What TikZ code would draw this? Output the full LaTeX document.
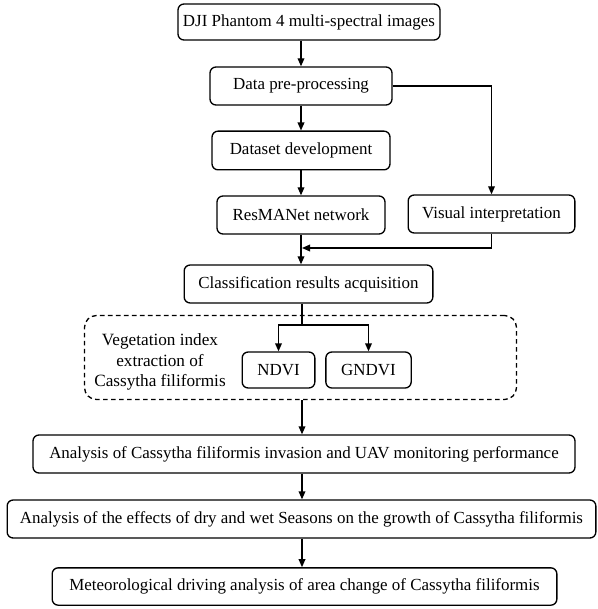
\documentclass[tikz,border=0pt]{standalone}
\usepackage{fontspec}
\setmainfont{Liberation Serif}
\usetikzlibrary{arrows.meta}

\tikzset{every picture/.style={line width=0.75pt}}

\begin{document}
\begin{tikzpicture}[x=0.75pt,y=0.75pt,yscale=-1,xscale=1,
  stepbox/.style={draw,line width=1pt,rounded corners=4.5pt,inner sep=0pt,font=\fontsize{12.7}{14}\selectfont},
  arr/.style={line width=1pt,-{Triangle[length=6pt,width=5pt]}},
  plain/.style={line width=1pt}]
%set diagram size 597 x 609
\useasboundingbox (0,0) rectangle (597,609);

%Rounded Rect [id:dji]
\node[stepbox,minimum width=196.5pt,minimum height=27pt] (dji) at (309,22) {DJI Phantom 4 multi-spectral images};
%Rounded Rect [id:pre]
\node[stepbox,minimum width=136.5pt,minimum height=28.5pt] (pre) at (301,86) {Data pre-processing};
%Rounded Rect [id:dataset]
\node[stepbox,minimum width=133.5pt,minimum height=29pt] (dataset) at (301,150.5) {Dataset development};
%Rounded Rect [id:resnet]
\node[stepbox,minimum width=126pt,minimum height=28.5pt] (resnet) at (301,215) {ResMANet network};
%Rounded Rect [id:visual]
\node[stepbox,minimum width=125pt,minimum height=28.5pt] (visual) at (491.5,214) {Visual interpretation};
%Rounded Rect [id:cls]
\node[stepbox,minimum width=186.5pt,minimum height=28.5pt] (cls) at (308.5,284) {Classification results acquisition};

%Dashed group [id:grp]
\node[draw,dash pattern=on 3.5pt off 2.5pt,line width=1pt,rounded corners=9pt,minimum width=324pt,minimum height=63pt] (grp) at (300.5,357.5) {};
% Text Node
\node[align=center,font=\fontsize{12.9}{15.5}\selectfont] (vi) at (160,362) {Vegetation index\\extraction of\\Cassytha filiformis};
%Rounded Rect [id:ndvi]
\node[stepbox,minimum width=54.5pt,minimum height=27pt] (ndvi) at (278.5,370) {NDVI};
%Rounded Rect [id:gndvi]
\node[stepbox,minimum width=64pt,minimum height=27pt] (gndvi) at (368.5,370) {GNDVI};

%Rounded Rect [id:ana]
\node[stepbox,minimum width=406.5pt,minimum height=28.5pt] (ana) at (304,454) {Analysis of Cassytha filiformis invasion and UAV monitoring performance};
%Rounded Rect [id:anb]
\node[stepbox,minimum width=441.5pt,minimum height=28.5pt] (anb) at (301.5,519) {Analysis of the effects of dry and wet Seasons on the growth of Cassytha filiformis};
%Rounded Rect [id:anc]
\node[stepbox,minimum width=378.5pt,minimum height=28pt] (anc) at (304.5,586.5) {Meteorological driving analysis of area change of Cassytha filiformis};

%Joints
\coordinate (join) at (302,248);
\coordinate (fork) at (302,325);

%Straight Lines
\draw[arr] (pre.north |- dji.south) -- (pre.north);
\draw[arr] (pre) -- (dataset);
\draw[arr] (pre.east) -| (visual.north);
\draw[arr] (dataset) -- (resnet);
\draw[arr] (resnet.south) -- (resnet.south |- cls.north);
\draw[arr] (visual.south) |- (join);
\draw[plain] (fork |- cls.south) -- (fork);
\draw[arr] (fork) -| (ndvi.north);
\draw[arr] (fork) -| (gndvi.north);
\draw[arr] (fork |- grp.south) -- (fork |- ana.north);
\draw[arr] (fork |- ana.south) -- (fork |- anb.north);
\draw[arr] (fork |- anb.south) -- (fork |- anc.north);

\end{tikzpicture}
\end{document}
